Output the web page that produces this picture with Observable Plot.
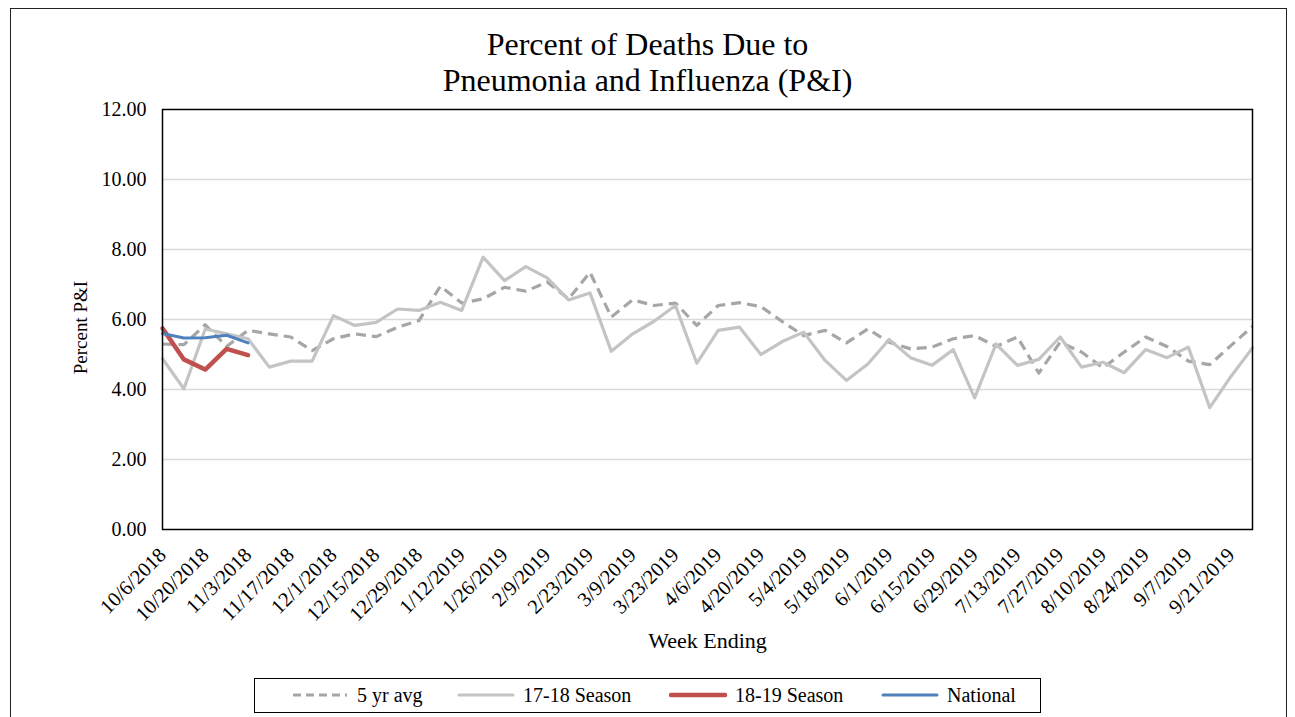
<!DOCTYPE html>
<html>
<head>
<meta charset="utf-8">
<script src="https://cdn.jsdelivr.net/npm/d3@7"></script>
<script src="https://cdn.jsdelivr.net/npm/@observablehq/plot@0.6"></script>
<style>
  html, body { margin: 0; padding: 0; background: #fff; }
  #wrap { position: relative; width: 1295px; height: 717px; overflow: hidden; font-family: "Liberation Serif", "Times New Roman", serif; }
  #frame { position: absolute; left: 10px; top: 8px; width: 1277px; height: 760px; border: 1.5px solid #222; box-sizing: border-box; }
  #title { position: absolute; left: 0; top: 26px; width: 1295px; text-align: center; font-size: 32px; line-height: 36px; color: #000; }
  #chart { position: absolute; left: 0; top: 0; }
  #legend { position: absolute; left: 254px; top: 678px; width: 787px; height: 35px; border: 1.5px solid #000; box-sizing: border-box; background: #fff; }
  .lg { position: absolute; top: 0; height: 32px; line-height: 32px; font-size: 20px; white-space: nowrap; }
  .sw { position: absolute; top: 0; }
</style>
</head>
<body>
<div id="wrap">
  <div id="frame"></div>
  <div id="title">Percent of Deaths Due to<br>Pneumonia and Influenza (P&amp;I)</div>
  <div id="chart"></div>
  <div id="legend"></div>
</div>
<script>
const weeks = [
  "10/6/2018","10/13/2018","10/20/2018","10/27/2018","11/3/2018","11/10/2018","11/17/2018","11/24/2018",
  "12/1/2018","12/8/2018","12/15/2018","12/22/2018","12/29/2018",
  "1/5/2019","1/12/2019","1/19/2019","1/26/2019","2/2/2019","2/9/2019","2/16/2019","2/23/2019",
  "3/2/2019","3/9/2019","3/16/2019","3/23/2019","3/30/2019","4/6/2019","4/13/2019","4/20/2019","4/27/2019",
  "5/4/2019","5/11/2019","5/18/2019","5/25/2019","6/1/2019","6/8/2019","6/15/2019","6/22/2019","6/29/2019",
  "7/6/2019","7/13/2019","7/20/2019","7/27/2019","8/3/2019","8/10/2019","8/17/2019","8/24/2019","8/31/2019",
  "9/7/2019","9/14/2019","9/21/2019","9/28/2019"
];
const tickLabels = [
  "10/6/2018","10/20/2018","11/3/2018","11/17/2018","12/1/2018","12/15/2018","12/29/2018",
  "1/12/2019","1/26/2019","2/9/2019","2/23/2019","3/9/2019","3/23/2019","4/6/2019","4/20/2019",
  "5/4/2019","5/18/2019","6/1/2019","6/15/2019","6/29/2019","7/13/2019","7/27/2019","8/10/2019",
  "8/24/2019","9/7/2019","9/21/2019"
];
const yTicks = [0, 2, 4, 6, 8, 10, 12];
const seriesNames = ["5 yr avg", "17-18 Season", "18-19 Season", "National"];

const fiveYrAvg = [5.30,5.28,5.85,5.23,5.69,5.59,5.50,5.11,5.45,5.59,
  5.51,5.78,5.97,6.95,6.47,6.59,6.92,6.81,7.07,6.59,
  7.35,6.07,6.56,6.40,6.47,5.83,6.40,6.48,6.37,5.94,
  5.54,5.69,5.33,5.73,5.35,5.16,5.21,5.45,5.54,5.23,
  5.50,4.47,5.35,5.07,4.62,5.07,5.50,5.23,4.81,4.71,
  5.26,5.80];
const season1718 = [4.88,4.02,5.73,5.59,5.45,4.64,4.81,4.81,6.11,5.83,
  5.92,6.30,6.26,6.49,6.26,7.78,7.11,7.51,7.19,6.56,
  6.76,5.09,5.59,5.95,6.40,4.75,5.69,5.78,5.00,5.37,
  5.64,4.83,4.26,4.73,5.43,4.91,4.69,5.14,3.76,5.30,
  4.69,4.86,5.50,4.64,4.78,4.48,5.14,4.91,5.21,3.48,
  4.38,5.19];
const season1819 = [5.75,4.86,4.57,5.16,4.98];
const national = [5.60,5.47,5.48,5.55,5.33];

// week index positions (category axis with points on tick marks)
const toRows = (vals) => vals.map((v, i) => ({idx: weeks.indexOf(weeks[i]), week: weeks[i], value: v}));
const tickIdx = tickLabels.map(l => weeks.indexOf(l));

const styles = {
  "5 yr avg":     {stroke: "#a6a6a6", strokeWidth: 3.2, strokeDasharray: "10,6", strokeLinecap: "butt"},
  "17-18 Season": {stroke: "#c4c4c4", strokeWidth: 3.2, strokeLinecap: "round"},
  "18-19 Season": {stroke: "#c0504d", strokeWidth: 4.5, strokeLinecap: "round"},
  "National":     {stroke: "#4f81bd", strokeWidth: 3, strokeLinecap: "round"}
};
const seriesData = {
  "5 yr avg": fiveYrAvg,
  "17-18 Season": season1718,
  "18-19 Season": season1819,
  "National": national
};

const font = "'Liberation Serif', 'Times New Roman', serif";

const chart = Plot.plot({
  width: 1295,
  height: 670,
  marginTop: 109,
  marginBottom: 141,
  marginLeft: 162,
  marginRight: 43,
  style: {fontFamily: font, background: "transparent", color: "#000"},
  x: {type: "linear", domain: [0, weeks.length - 1], axis: null},
  y: {domain: [0, 12], axis: null},
  marks: [
    Plot.gridY([2, 4, 6, 8, 10], {stroke: "#d9d9d9", strokeOpacity: 1, strokeWidth: 1.5}),
    Plot.axisY(yTicks, {tickSize: 0, tickPadding: 16, tickFormat: d3.format(".2f"), fontSize: 20, label: null}),
    Plot.axisX(tickIdx, {tickSize: 0, tickRotate: -45, tickPadding: 22, tickFormat: i => weeks[i], fontSize: 20.5, label: null}),
    ...seriesNames.map(name => Plot.line(toRows(seriesData[name]), {
      x: "idx", y: "value", strokeLinejoin: "round", ...styles[name]
    })),
    Plot.frame({stroke: "#000", strokeWidth: 1.5}),
    Plot.text(["Percent P&I"], {text: d => d, frameAnchor: "left", textAnchor: "middle", lineAnchor: "middle", dx: -82, dy: 8, rotate: -90, fontSize: 19}),
    Plot.text(["Week Ending"], {text: d => d, frameAnchor: "bottom", textAnchor: "middle", lineAnchor: "middle", dy: 111, fontSize: 22})
  ]
});
document.getElementById("chart").appendChild(chart);

// Legend (HTML, below plot area)
const legend = document.getElementById("legend");
const legendPos = [
  {sw: 290 - 254, tx: 356 - 254},
  {sw: 456 - 254, tx: 522 - 254},
  {sw: 668 - 254, tx: 734 - 254},
  {sw: 880 - 254, tx: 946 - 254}
];
seriesNames.forEach((name, i) => {
  const s = styles[name];
  const sw = document.createElementNS("http://www.w3.org/2000/svg", "svg");
  sw.setAttribute("class", "sw");
  sw.setAttribute("width", 60);
  sw.setAttribute("height", 32);
  sw.style.left = legendPos[i].sw + "px";
  const ln = document.createElementNS("http://www.w3.org/2000/svg", "line");
  ln.setAttribute("x1", 2); ln.setAttribute("x2", 56);
  ln.setAttribute("y1", 16); ln.setAttribute("y2", 16);
  ln.setAttribute("stroke", s.stroke);
  ln.setAttribute("stroke-width", s.strokeWidth);
  ln.setAttribute("stroke-linecap", s.strokeLinecap);
  if (s.strokeDasharray) ln.setAttribute("stroke-dasharray", "8,5");
  sw.appendChild(ln);
  legend.appendChild(sw);
  const t = document.createElement("div");
  t.className = "lg";
  t.style.left = legendPos[i].tx + "px";
  t.textContent = name;
  legend.appendChild(t);
});
</script>
</body>
</html>
